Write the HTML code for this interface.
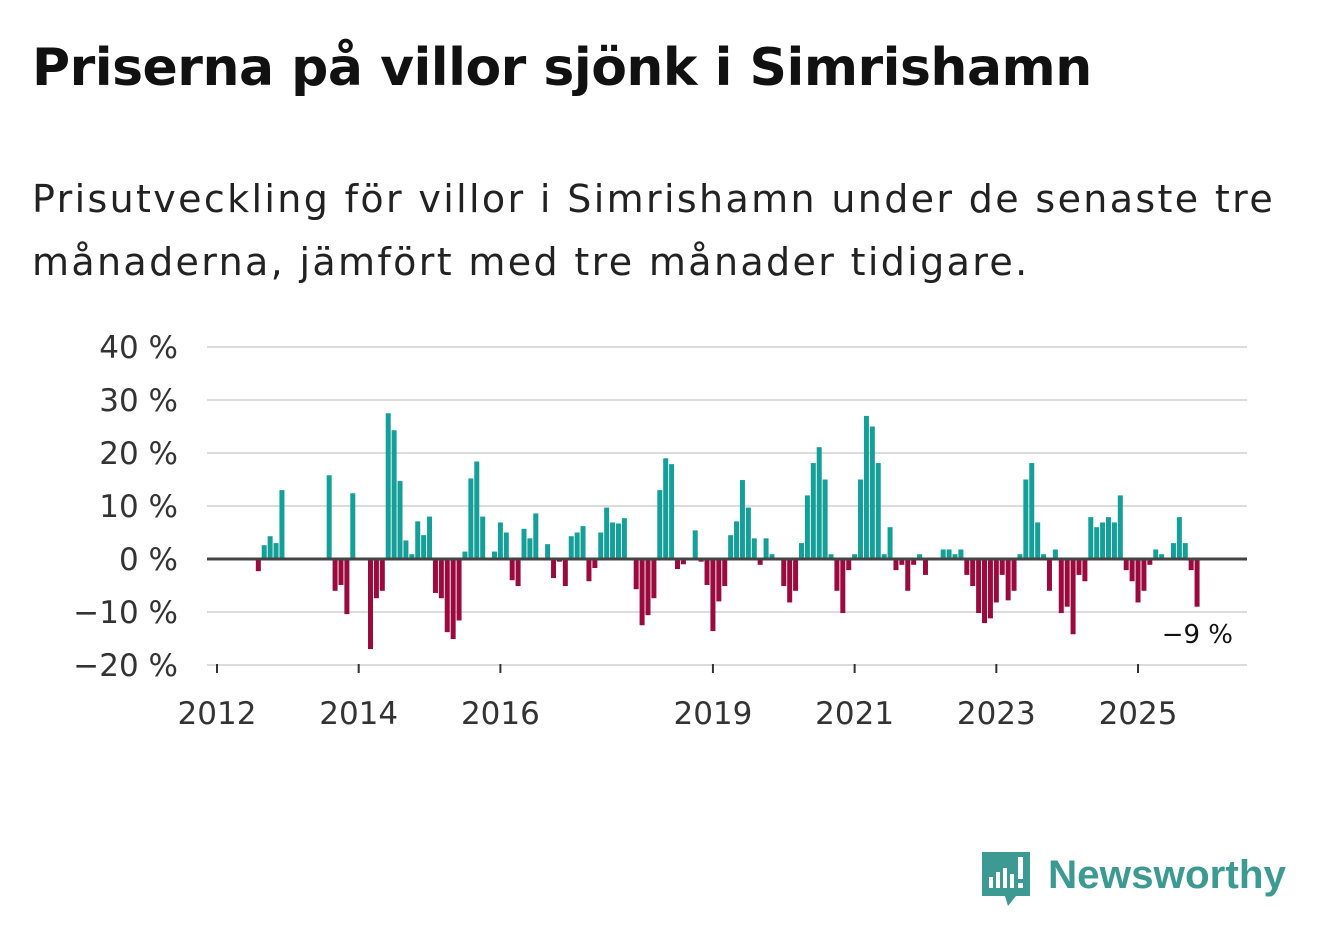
<!DOCTYPE html>
<html><head><meta charset="utf-8"><style>
body{margin:0;width:1322px;height:939px;background:#fff;font-family:"Liberation Sans","DejaVu Sans",sans-serif;overflow:hidden;position:relative}
h1{position:absolute;left:32px;top:38px;margin:0;font-size:52px;font-weight:bold;color:#111;font-family:"DejaVu Sans",sans-serif;letter-spacing:-0.5px}
.sub{position:absolute;left:32px;top:168px;margin:0;font-size:38px;line-height:63px;color:#222;font-family:"DejaVu Sans",sans-serif;width:1290px;letter-spacing:2.35px}
svg{position:absolute;left:0;top:0}
</style></head><body>
<h1>Priserna på villor sjönk i Simrishamn</h1>
<p class="sub">Prisutveckling för villor i Simrishamn under de senaste tre månaderna, jämfört med tre månader tidigare.</p>
<svg id="chart" width="1322" height="939"></svg>
<script>
const values=[0,0,0,0,0,0,0,-2.3,2.6,4.3,3,13,0,0,0,0,0,0,0,15.8,-6,-4.9,-10.4,12.4,0,0,-17,-7.4,-6,27.5,24.3,14.7,3.5,0.9,7.1,4.5,8,-6.4,-7.4,-13.8,-15.1,-11.6,1.4,15.2,18.4,8,0,1.4,6.9,5,-4,-5.1,5.7,3.9,8.6,0,2.8,-3.6,-0.5,-5.1,4.3,5,6.2,-4.2,-1.7,5,9.7,6.9,6.7,7.7,0,-5.7,-12.5,-10.6,-7.4,13,19,17.9,-1.9,-1,0,5.4,-0.5,-4.9,-13.6,-8,-5.1,4.5,7.1,14.9,9.7,3.9,-1.1,3.9,0.9,0,-5.1,-8.2,-6,3,12,18.1,21.1,15,0.9,-6,-10.2,-2.1,0.9,15,27,25,18.1,0.9,6,-2.1,-1.1,-6,-1.1,0.9,-3,0,0,1.8,1.8,0.9,1.8,-3,-5.1,-10.2,-12.1,-11.2,-8.2,-3,-7.8,-6,0.9,15,18.1,6.9,0.9,-6,1.8,-10.2,-9,-14.2,-3,-4.2,7.9,6,6.9,7.9,6.9,12,-2.1,-4.2,-8.2,-6,-1.1,1.8,0.9,0,3,7.9,3,-2.1,-9];
const yTicks=[40,30,20,10,0,-10,-20];
const yTickLabels=["40 %","30 %","20 %","10 %","0 %","−10 %","−20 %"];
const xTickYears=[2012,2014,2016,2019,2021,2023,2025];
const lastLabel="−9 %";
const NS="http://www.w3.org/2000/svg";
const svg=document.getElementById('chart');
const y=v=>559-v*5.3;
const xm=m=>217+m*5.904;
const xy=yr=>xm((yr-2012)*12);
function mk(t,a){const e=document.createElementNS(NS,t);for(const k in a)e.setAttribute(k,a[k]);svg.appendChild(e);return e;}
yTicks.forEach((t,i)=>{
  if(t!==0){const g=mk('line',{x1:207,x2:1247,y1:y(t),y2:y(t),stroke:'#dcdcdc','stroke-width':2});
  
  }
  const l=mk('text',{x:178,y:y(t)+11,'text-anchor':'end','font-size':31,fill:'#333','font-family':'DejaVu Sans, sans-serif'});
  l.textContent=yTickLabels[i];
  
  
});
values.forEach((v,m)=>{
  if(v===0)return;
  const b=mk('rect',{x:xm(m)-2.5,width:5,y:v>0?y(v):y(0),height:Math.abs(v)*5.3,fill:v>0?'#14a099':'#9a0a3d'});
  
  
});
const z=mk('line',{x1:207,x2:1247,y1:y(0),y2:y(0),stroke:'#444','stroke-width':3});


xTickYears.forEach(yr=>{
  const t=mk('line',{x1:xy(yr),x2:xy(yr),y1:664,y2:673,stroke:'#333','stroke-width':2});
  
  
  const l=mk('text',{x:xy(yr),y:724,'text-anchor':'middle','font-size':31,fill:'#333','font-family':'DejaVu Sans, sans-serif'});
  l.textContent=yr;
  
  
});
const a=mk('text',{x:1233,y:643,'text-anchor':'end','font-size':26,fill:'#111','font-family':'DejaVu Sans, sans-serif'});
a.textContent=lastLabel;


</script>
<svg width="1322" height="939">
<path d="M982 852 h48 v44 h-14 l-8 10 l-3 -10 h-23 z" fill="#3d9a92"/>
<rect x="989" y="877" width="4" height="11" fill="#fff"/>
<rect x="996" y="872" width="4" height="16" fill="#fff"/>
<rect x="1003" y="868" width="4" height="20" fill="#fff"/>
<rect x="1010" y="874" width="4" height="14" fill="#fff"/>
<rect x="1018" y="857" width="5" height="22" fill="#fff"/>
<rect x="1018" y="883" width="5" height="5" fill="#fff"/>
<text x="1048" y="888" font-size="40" font-weight="bold" fill="#3d9a92" font-family="Liberation Sans, sans-serif" textLength="238" lengthAdjust="spacingAndGlyphs">Newsworthy</text>
</svg>
</body></html>
